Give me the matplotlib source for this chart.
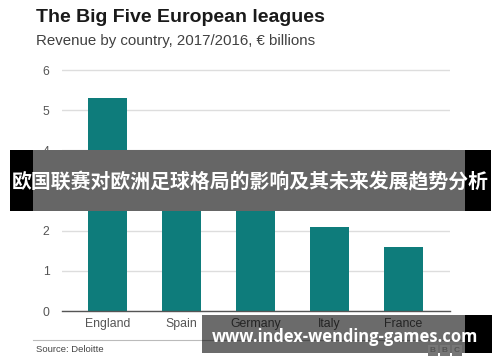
import matplotlib.pyplot as plt
from matplotlib.patches import Rectangle

# Data (EUR billions, 2016/17)
COUNTRIES = ["England", "Spain", "Germany", "Italy", "France"]
REVENUE = [5.3, 2.9, 2.8, 2.1, 1.6]
Y_TICKS = [0, 1, 2, 3, 4, 5, 6]

TITLE = "The Big Five European leagues"
SUBTITLE = "Revenue by country, 2017/2016, \u20ac billions"
SOURCE = "Source: Deloitte"
BANNER = "欧国联赛对欧洲足球格局的影响及其未来发展趋势分析"
WATERMARK = "www.index-wending-games.com"

TEAL = "#0e7c7b"
W, H = 500, 362


# pixel box (top-left origin) -> figure fraction rectangle
def px_rect(x0, y0, x1, y1, **kw):
    return Rectangle((x0 / W, 1 - y1 / H), (x1 - x0) / W, (y1 - y0) / H,
                     transform=fig.transFigure, **kw)


plt.rcParams["font.family"] = ["Liberation Sans", "DejaVu Sans"]

fig = plt.figure(figsize=(W / 100, H / 100), dpi=100, facecolor="white")
ax = fig.add_axes([62 / W, 1 - 311 / H, 388 / W, (311 - 66) / H])

x = list(range(len(COUNTRIES)))
ax.bar(x, REVENUE, width=0.527, color=TEAL, zorder=2)

ax.set_xlim(-0.615, 4.628)
ax.set_ylim(0, 6.1)
ax.set_yticks(Y_TICKS)
ax.set_yticklabels([str(t) for t in Y_TICKS])
ax.set_xticks(x)
ax.set_xticklabels(COUNTRIES)
ax.tick_params(axis="both", length=0, labelsize=8.8, labelcolor="#555555")
ax.tick_params(axis="y", pad=9)
ax.tick_params(axis="x", pad=5)
ax.grid(axis="y", color="#dddddd", linewidth=1, zorder=0)
for s in ["top", "right", "left"]:
    ax.spines[s].set_visible(False)
ax.spines["bottom"].set_color("#555555")
ax.spines["bottom"].set_linewidth(1)
ax.spines["bottom"].set_zorder(3)

fig.text(36 / W, 1 - 17 / H, TITLE, fontsize=14, fontweight="bold",
         color="#1a1a1a", va="center", ha="left")
fig.text(36 / W, 1 - 41 / H, SUBTITLE, fontsize=10.8, color="#404040",
         va="center", ha="left")

# footer rule and source
fig.add_artist(plt.Line2D([33 / W, 465 / W], [1 - 340 / H] * 2,
                          transform=fig.transFigure, color="#bbbbbb", lw=0.8))
fig.text(36 / W, 1 - 350 / H, SOURCE, fontsize=6.8, color="#444444",
         va="center", ha="left")

# banner overlay across the middle
fig.add_artist(px_rect(10, 150, 491, 211, color="black", lw=0, zorder=5))
fig.add_artist(px_rect(33, 150, 465, 211, color="#ffffff", lw=0, zorder=5))
fig.add_artist(px_rect(33, 150, 465, 211, color="black", alpha=0.6, lw=0, zorder=5))
fig.text(250 / W, 1 - 182 / H, BANNER, fontsize=14.3, fontweight="bold",
         color="white", ha="center", va="center", zorder=6,
         family=["Noto Sans CJK SC", "DejaVu Sans"])

# watermark box at the bottom right
fig.add_artist(px_rect(465, 315, 492, 353, color="black", lw=0, zorder=5))
fig.add_artist(px_rect(202, 315, 465, 353, color="black", alpha=0.58, lw=0, zorder=5))
fig.text(345 / W, 1 - 337 / H, WATERMARK, fontsize=11.9, fontweight="bold",
         color="white", ha="center", va="center", zorder=6,
         family=["Open Sans", "DejaVu Sans"])
for i, letter in enumerate("BBC"):
    x0 = 428 + i * 12
    fig.add_artist(px_rect(x0, 345, x0 + 10, 356, color="#777777", lw=0, zorder=6))
    fig.text((x0 + 5) / W, 1 - 350.5 / H, letter, fontsize=6, fontweight="bold",
             color="#555555", ha="center", va="center", zorder=7)

fig.savefig("out.png", dpi=100, facecolor="white")
